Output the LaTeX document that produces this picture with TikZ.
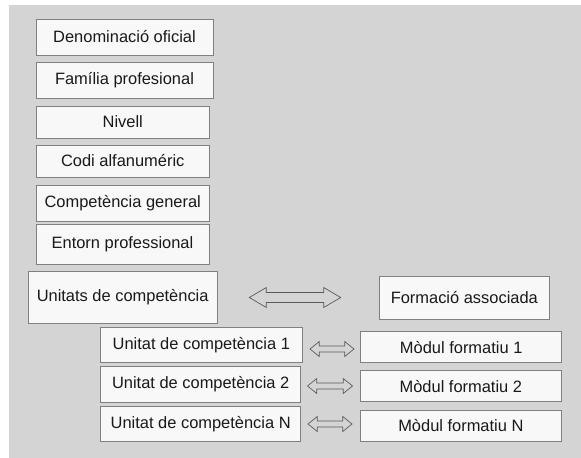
\documentclass[tikz,border=0pt]{standalone}
\usepackage{fontspec}
\setmainfont{Liberation Sans}
\definecolor{bggray}{HTML}{D4D4D4}
\definecolor{boxfill}{HTML}{F8F8F8}
\definecolor{boxline}{HTML}{808080}
\definecolor{arrline}{HTML}{5A5A5A}
% block double arrow: #1 left tip x, #2 right tip x, #3 y, #4 head length, #5 head half height, #6 shaft half height
\newcommand\mydblarrow[6]{%
  \draw[arrstyle] (#1,#3) -- ({#1+#4},{#3-#5}) -- ({#1+#4},{#3-#6}) -- ({#2-#4},{#3-#6})
    -- ({#2-#4},{#3-#5}) -- (#2,#3) -- ({#2-#4},{#3+#5}) -- ({#2-#4},{#3+#6})
    -- ({#1+#4},{#3+#6}) -- ({#1+#4},{#3+#5}) -- cycle;}
\begin{document}
\begin{tikzpicture}[x=1bp,y=-1bp,
  box/.style={draw=boxline, fill=boxfill, line width=0.9bp, inner sep=0pt,
    font=\fontsize{16.5}{19}\selectfont, text=black!90},
  arrstyle/.style={draw=arrline, line width=0.7bp, line join=miter}
]
\useasboundingbox (0,0) rectangle (581,458);
\fill[white] (0,0) rectangle (581,458);
\fill[bggray] (9,5) rectangle (581,458);

\node[box, minimum width=177bp, minimum height=36bp] (den) at (124.5,37) {Denominació oficial};
\node[box, minimum width=177bp, minimum height=36bp] (fam) at (124.5,80) {Família profesional};
\node[box, minimum width=173.5bp, minimum height=32bp] (niv) at (122.75,122) {Nivell};
\node[box, minimum width=173.5bp, minimum height=32bp] (codi) at (122.75,161) {Codi alfanuméric};
\node[box, minimum width=173.5bp, minimum height=36bp] (cg) at (122.75,203) {Competència general};
\node[box, minimum width=173bp, minimum height=39.5bp] (ent) at (122.5,244.25) {Entorn professional};
\node[box, minimum width=188.7bp, minimum height=51.6bp] (uc) at (122.65,297.5) {Unitats de competència};
\node[box, minimum width=170bp, minimum height=43bp] (fa) at (464.3,297.5) {Formació associada};

\node[box, minimum width=201.3bp, minimum height=35bp] (u1) at (201.35,344.8) {Unitat de competència 1};
\node[box, minimum width=200bp, minimum height=35.6bp] (u2) at (200.7,384.5) {Unitat de competència 2};
\node[box, minimum width=200bp, minimum height=35bp] (un) at (200.7,424.2) {Unitat de competència N};

\node[box, minimum width=201bp, minimum height=31bp] (m1) at (461.2,347.2) {Mòdul formatiu 1};
\node[box, minimum width=201.7bp, minimum height=31bp] (m2) at (460.85,386.2) {Mòdul formatiu 2};
\node[box, minimum width=201.7bp, minimum height=31.7bp] (mn) at (460.85,425.85) {Mòdul formatiu N};

\mydblarrow{249.3}{340.7}{297.5}{17}{10}{5}
\mydblarrow{310}{354}{349}{9.3}{7.5}{3}
\mydblarrow{307.5}{352.5}{386}{9.3}{7.5}{3}
\mydblarrow{308}{352}{424}{9.3}{7.5}{3}
\end{tikzpicture}
\end{document}
